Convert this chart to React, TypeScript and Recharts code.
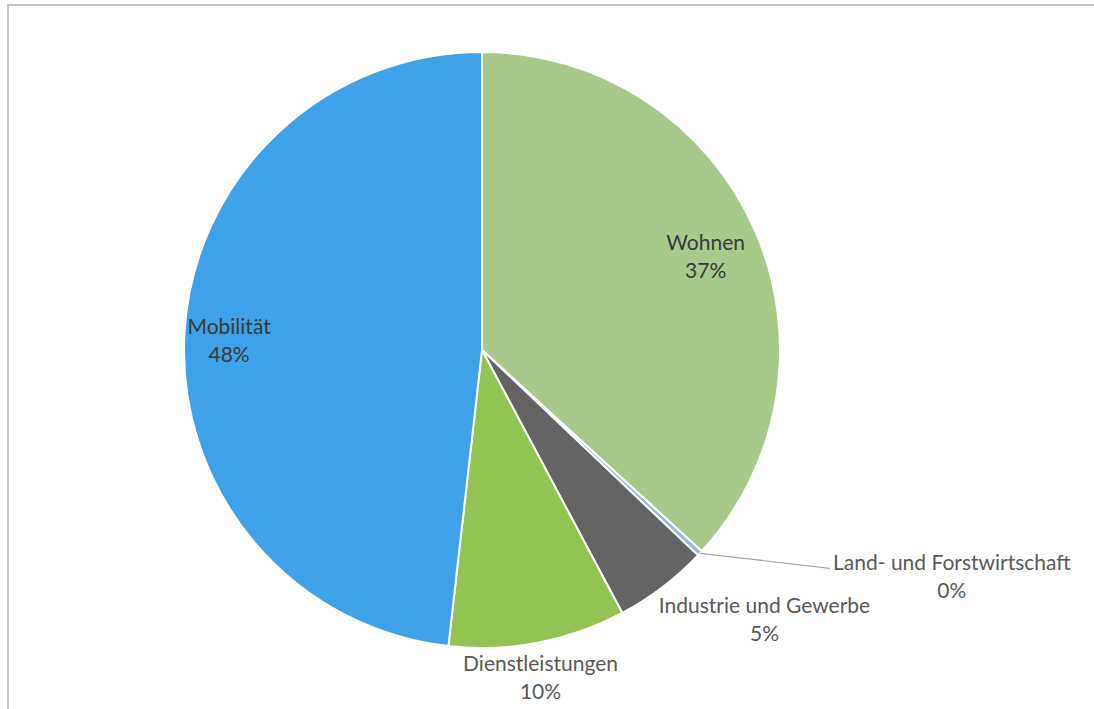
import { PieChart, Pie, Cell } from "recharts";

const categories = [
  "Wohnen",
  "Land- und Forstwirtschaft",
  "Industrie und Gewerbe",
  "Dienstleistungen",
  "Mobilität",
];
const shares = [36.8, 0.3, 5.1, 9.6, 48.2];
const colors = ["#A9C98A", "#9DB7D5", "#646464", "#92C353", "#3FA2E8"];

const chartData = categories.map((name, i) => ({ name, value: shares[i] }));

// label placement per slice: radius factor along mid angle + nudge
const labelPos: Record<string, { k: number; dx: number; dy: number; inside: boolean }> = {
  "Wohnen": { k: 0.82, dx: 0, dy: 5, inside: true },
  "Mobilität": { k: 0.85, dx: 0, dy: 5, inside: true },
  "Dienstleistungen": { k: 1.12, dx: -4, dy: 0, inside: false },
  "Industrie und Gewerbe": { k: 1.2, dx: 66, dy: -15, inside: false },
  "Land- und Forstwirtschaft": { k: 1.0, dx: 252, dy: 24, inside: false },
};

const RAD = Math.PI / 180;

function renderLabel(props: any) {
  const { cx, cy, midAngle, outerRadius, percent, name } = props;
  const p = labelPos[name];
  const x = cx + outerRadius * p.k * Math.cos(-midAngle * RAD) + p.dx;
  const y = cy + outerRadius * p.k * Math.sin(-midAngle * RAD) + p.dy;
  const fill = p.inside ? "#3a3a3a" : "#595959";
  const leader = name === "Land- und Forstwirtschaft";
  const ex = cx + outerRadius * Math.cos(-midAngle * RAD);
  const ey = cy + outerRadius * Math.sin(-midAngle * RAD);
  return (
    <g>
      {leader && (
        <polyline
          points={`${ex},${ey} ${x - 122},${y - 9}`}
          fill="none"
          stroke="#a6a6a6"
          strokeWidth={1.2}
        />
      )}
      <text x={x} y={y} fill={fill} textAnchor="middle" fontSize={21} fontFamily="Lato">
        <tspan x={x} dy={-7}>{name}</tspan>
        <tspan x={x} dy={28}>{`${Math.round(percent * 100)}%`}</tspan>
      </text>
    </g>
  );
}

export default function App() {
  return (
    <div style={{ position: "absolute", left: 0, top: 0, width: 1094, height: 709, background: "#fff", overflow: "hidden" }}>
      <div
        style={{
          position: "absolute",
          left: 7,
          top: 4,
          width: 1094,
          height: 709,
          borderTop: "2px solid #c4c4c4",
          borderLeft: "2px solid #c4c4c4",
        }}
      />
      <PieChart
        width={1094}
        height={709}
        margin={{ top: 0, right: 0, bottom: 0, left: 0 }}
        style={{ position: "absolute", left: 0, top: 0 }}
      >
        <Pie
          data={chartData}
          dataKey="value"
          nameKey="name"
          cx={482}
          cy={350}
          outerRadius={298}
          startAngle={90}
          endAngle={-270}
          stroke="#ffffff"
          strokeWidth={2}
          label={renderLabel}
          labelLine={false}
          isAnimationActive={false}
        >
          {chartData.map((d, i) => (
            <Cell key={d.name} fill={colors[i]} />
          ))}
        </Pie>
      </PieChart>
    </div>
  );
}
